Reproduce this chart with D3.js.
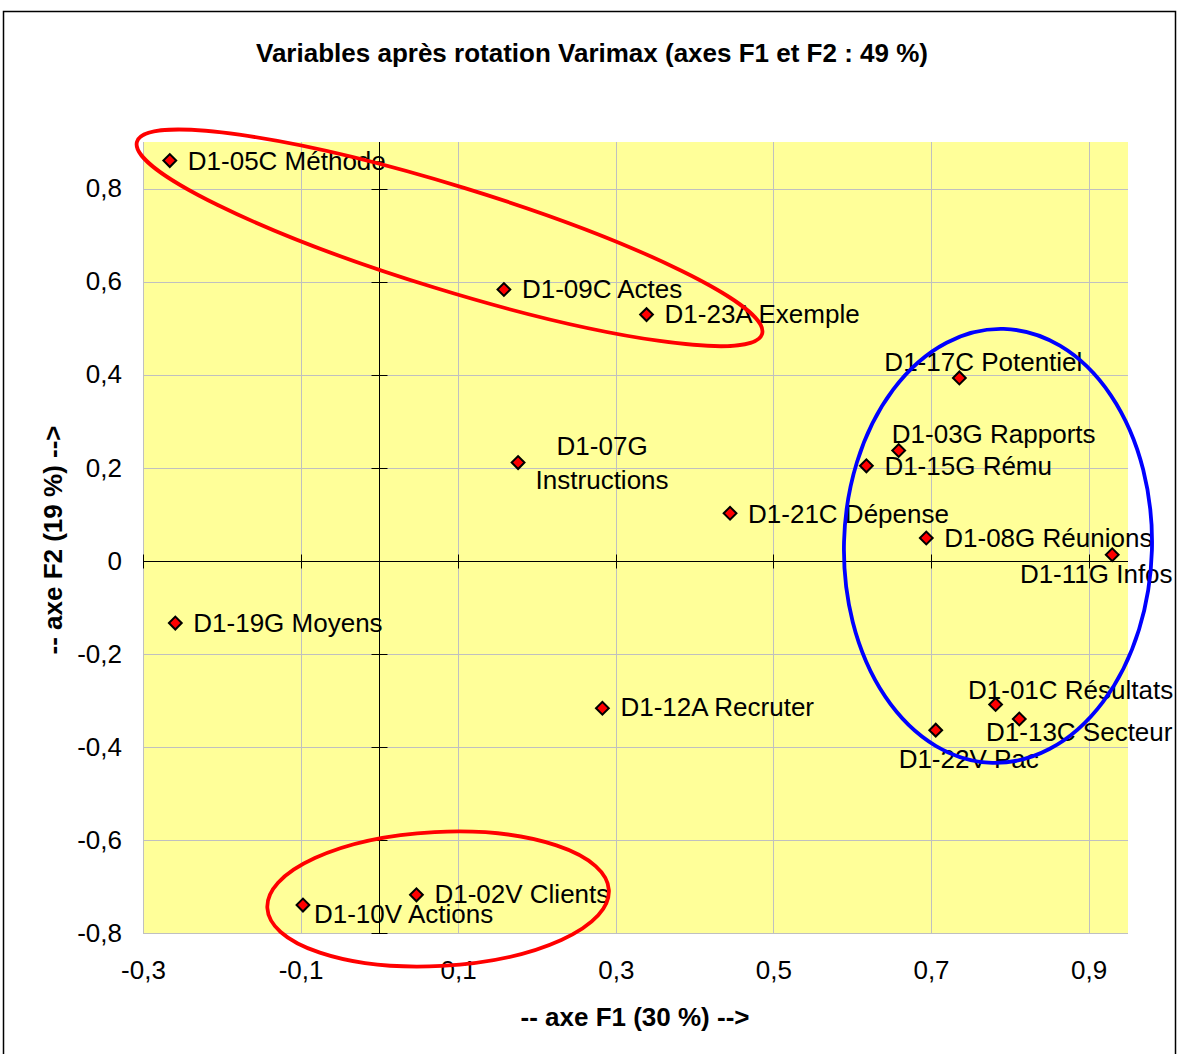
<!DOCTYPE html>
<meta charset="utf-8" />
<html lang="fr">
<head>
    <meta charset="utf-8" />
    <title>Variables après rotation Varimax</title>
    <script src="https://d3js.org/d3.v7.min.js"></script>
</head>

<style>
    body { margin: 0; background: #fff; }
    text { font-family: "Liberation Sans", Arial, sans-serif; fill: #000; }
    .lbl { font-size: 26px; }
    .tick-lbl { font-size: 26px; }
    .title { font-size: 26px; font-weight: bold; }
</style>

<body>
    <div id="chart"></div>

    <script>

        const names = ["D1-05C Méthode", "D1-09C Actes", "D1-23A Exemple", "D1-07G\nInstructions",
            "D1-17C Potentiel", "D1-03G Rapports", "D1-15G Rému", "D1-21C Dépense",
            "D1-08G Réunions", "D1-11G Infos", "D1-19G Moyens", "D1-12A Recruter",
            "D1-01C Résultats", "D1-13C Secteur", "D1-22V Pac", "D1-02V Clients", "D1-10V Actions"];
        const f1 = [-0.266, 0.158, 0.339, 0.176, 0.736, 0.659, 0.618, 0.445,
            0.694, 0.930, -0.259, 0.283, 0.782, 0.812, 0.706, 0.047, -0.097];
        const f2 = [0.860, 0.583, 0.529, 0.211, 0.393, 0.237, 0.204, 0.102,
            0.049, 0.013, -0.134, -0.317, -0.309, -0.340, -0.364, -0.718, -0.740];

        const xTicks = [-0.3, -0.1, 0.1, 0.3, 0.5, 0.7, 0.9];
        const yTicks = [-0.8, -0.6, -0.4, -0.2, 0, 0.2, 0.4, 0.6, 0.8];

        const chartTitle = "Variables après rotation Varimax (axes F1 et F2 : 49 %)";
        const xTitle = "-- axe F1 (30 %) -->";
        const yTitle = "-- axe F2 (19 %) -->";

        // where each label sits around its point (pixels)
        const labelPlacement = [
            [18, 0, "start"], [18, -1, "start"], [18, -1, "start"], [84, 0, "middle"],
            [24, -16, "middle"], [95, -17, "middle"], [18, 0, "start"], [18, 0, "start"],
            [18, 0, "start"], [-16, 19, "middle"], [18, 0, "start"], [18, -2, "start"],
            [75, -15, "middle"], [60, 13, "middle"], [33, 29, "middle"], [18, -1, "start"],
            [11, 9, "start"]];

        // hand drawn ellipses (centre in data units, radii in px, angle in deg)
        const ellipses = [
            { cx: 0.089, cy: 0.694, rx: 327, ry: 52, angle: 17.1, color: "#ff0000" },
            { cx: 0.0745, cy: -0.727, rx: 171, ry: 67, angle: -3, color: "#ff0000" },
            { cx: 0.785, cy: 0.032, rx: 154, ry: 217, angle: 1.5, color: "#0000ff" }];

        // set the dimensions and margins of the graph
        const W = 1181, H = 1054;
        const margin = { top: 142, left: 143 },
            width = 985,
            height = 791;

        const x = d3.scaleLinear().domain([-0.3, 0.95]).range([0, width]);
        const y = d3.scaleLinear().domain([-0.8, 0.9]).range([height, 0]);

        const loc = d3.formatLocale({ decimal: ",", thousands: " ", grouping: [3], currency: ["", ""], minus: "-" });
        const f = loc.format(".1f");
        const fmt = function (d) { return d === 0 ? "0" : f(d); };

        const svg = d3.select("#chart").append("svg")
            .attr("width", W)
            .attr("height", H);

        // outer frame
        svg.append("rect")
            .attr("x", 3.5).attr("y", 11.5)
            .attr("width", 1172).attr("height", 1100)
            .attr("fill", "#fff")
            .attr("stroke", "#000")
            .attr("stroke-width", 1.5);

        // chart title
        svg.append("text")
            .attr("class", "title")
            .attr("x", 592)
            .attr("y", 62)
            .attr("text-anchor", "middle")
            .text(chartTitle);

        const g = svg.append("g")
            .attr("transform", "translate(" + margin.left + "," + margin.top + ")");

        // plot area
        g.append("rect")
            .attr("width", width)
            .attr("height", height)
            .attr("fill", "#ffff99");

        // grid lines
        g.selectAll(".vgrid")
            .data(xTicks)
            .enter().append("line")
            .attr("x1", d => Math.round(x(d)) + 0.5).attr("x2", d => Math.round(x(d)) + 0.5)
            .attr("y1", 0).attr("y2", height)
            .attr("stroke", "#c0c0c0");

        g.selectAll(".hgrid")
            .data(yTicks)
            .enter().append("line")
            .attr("x1", 0).attr("x2", width)
            .attr("y1", d => Math.round(y(d)) + 0.5).attr("y2", d => Math.round(y(d)) + 0.5)
            .attr("stroke", "#c0c0c0");

        // axes through zero with cross ticks
        const x0 = Math.round(x(0)) + 0.5, y0 = Math.round(y(0)) + 0.5;
        g.append("line")
            .attr("x1", x0).attr("x2", x0).attr("y1", 0).attr("y2", height)
            .attr("stroke", "#000");
        g.append("line")
            .attr("x1", 0).attr("x2", width).attr("y1", y0).attr("y2", y0)
            .attr("stroke", "#000");

        g.selectAll(".ytickmark")
            .data(yTicks)
            .enter().append("line")
            .attr("x1", x0 - 8).attr("x2", x0 + 8)
            .attr("y1", d => Math.round(y(d)) + 0.5).attr("y2", d => Math.round(y(d)) + 0.5)
            .attr("stroke", "#000");

        g.selectAll(".xtickmark")
            .data(xTicks)
            .enter().append("line")
            .attr("x1", d => Math.round(x(d)) + 0.5).attr("x2", d => Math.round(x(d)) + 0.5)
            .attr("y1", y0 - 7).attr("y2", y0 + 7)
            .attr("stroke", "#000");

        // tick labels
        const xAxis = d3.axisBottom(x).tickValues(xTicks).tickSize(0).tickPadding(28).tickFormat(fmt);
        const yAxis = d3.axisLeft(y).tickValues(yTicks).tickSize(0).tickPadding(21).tickFormat(fmt);

        g.append("g")
            .attr("transform", "translate(0," + height + ")")
            .call(xAxis)
            .call(a => a.select(".domain").remove())
            .selectAll("text").attr("class", "tick-lbl").attr("font-size", null).attr("font-family", null);

        g.append("g")
            .call(yAxis)
            .call(a => a.select(".domain").remove())
            .selectAll("text").attr("class", "tick-lbl").attr("font-size", null).attr("font-family", null);

        // axis titles
        svg.append("text")
            .attr("class", "title")
            .attr("x", 635)
            .attr("y", 1026)
            .attr("text-anchor", "middle")
            .text(xTitle);

        svg.append("text")
            .attr("class", "title")
            .attr("transform", "translate(62,540) rotate(-90)")
            .attr("text-anchor", "middle")
            .text(yTitle);

        // the points
        const pts = names.map((n, i) => ({ name: n, x: f1[i], y: f2[i], pos: labelPlacement[i] }));

        g.selectAll(".pt")
            .data(pts)
            .enter().append("path")
            .attr("d", d3.symbol(d3.symbolSquare, 82))
            .attr("transform", d => "translate(" + x(d.x) + "," + y(d.y) + ") rotate(45)")
            .attr("fill", "#ff0000")
            .attr("stroke", "#000")
            .attr("stroke-width", 2);

        // point labels
        const lbl = g.selectAll(".lbl")
            .data(pts)
            .enter().append("text")
            .attr("class", "lbl")
            .attr("text-anchor", d => d.pos[2]);

        lbl.each(function (d) {
            const lines = d.name.split("\n");
            const t = d3.select(this);
            lines.forEach(function (line, k) {
                t.append("tspan")
                    .attr("x", x(d.x) + d.pos[0])
                    .attr("y", y(d.y) + d.pos[1] + (k - (lines.length - 1) / 2) * 34)
                    .attr("dy", "0.36em")
                    .text(line);
            });
        });

        // ellipses drawn over everything
        g.selectAll(".ell")
            .data(ellipses)
            .enter().append("ellipse")
            .attr("rx", d => d.rx)
            .attr("ry", d => d.ry)
            .attr("transform", d => "translate(" + x(d.cx) + "," + y(d.cy) + ") rotate(" + d.angle + ")")
            .attr("fill", "none")
            .attr("stroke", d => d.color)
            .attr("stroke-width", 3.8);

    </script>
</body>
</html>
